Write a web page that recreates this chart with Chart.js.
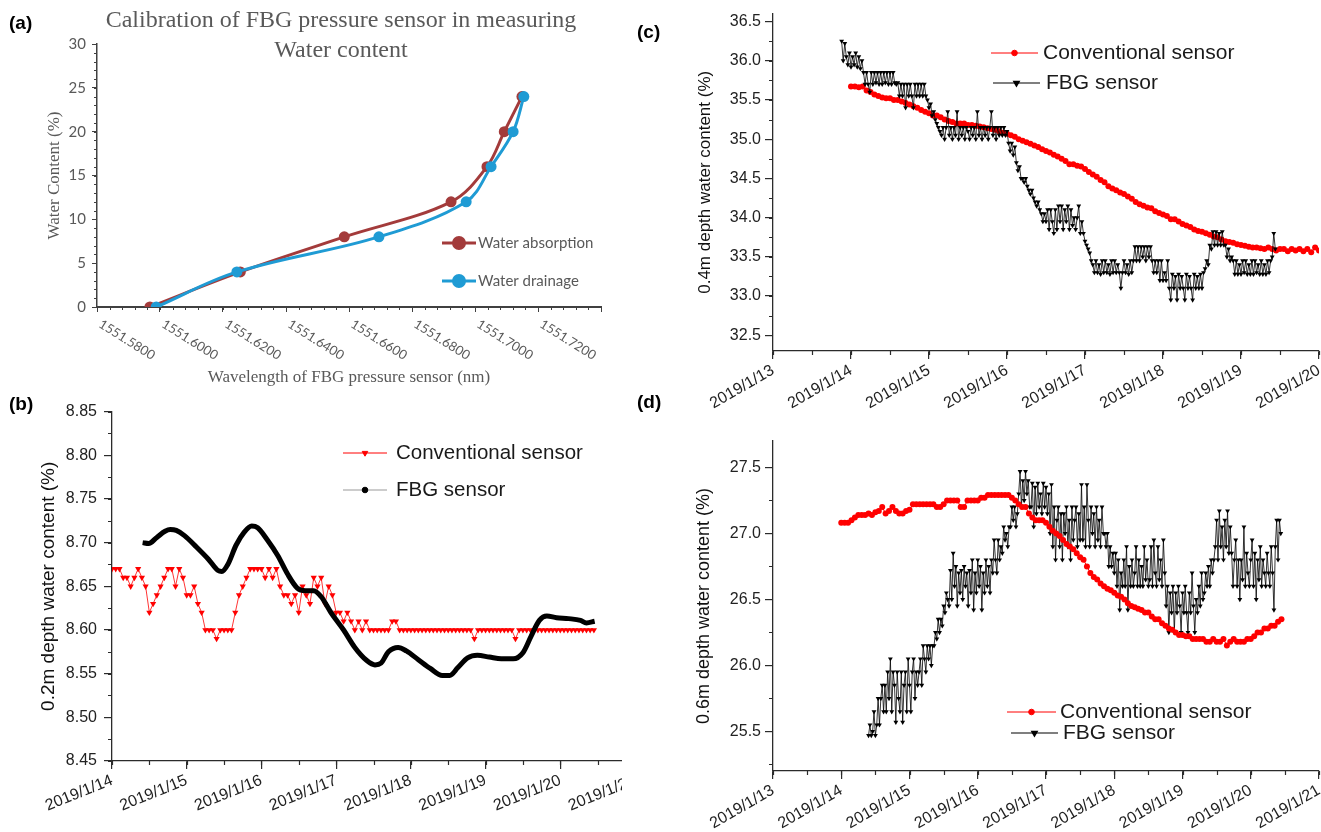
<!DOCTYPE html>
<html>
<head>
<meta charset="utf-8">
<script src="https://cdn.jsdelivr.net/npm/chart.js@4.4.0/dist/chart.umd.min.js"></script>
<style>
  body { margin: 0; background: #fff; width: 1321px; height: 832px; position: relative; overflow: hidden; font-family: "Liberation Sans", Arial, sans-serif; }
  .panel { position: absolute; overflow: hidden; }
  .tag { position: absolute; font-weight: bold; font-size: 19px; line-height: 1; color: #000; }
  #titleA { position: absolute; left: 41px; top: 4px; width: 600px; text-align: center; font-family: "Liberation Serif", serif; font-size: 24px; line-height: 30px; color: #595959; }
</style>
</head>
<body>
<div class="panel" style="left:0;top:0;width:625px;height:395px"><canvas id="chartA" width="625" height="395"></canvas></div>
<div class="panel" style="left:0;top:395px;width:622px;height:437px"><canvas id="chartB" width="660" height="437"></canvas></div>
<div class="panel" style="left:625px;top:0;width:696px;height:420px"><canvas id="chartC" width="706" height="420"></canvas></div>
<div class="panel" style="left:625px;top:420px;width:696px;height:412px"><canvas id="chartD" width="706" height="412"></canvas></div>
<div id="titleA">Calibration of FBG pressure sensor in measuring<br>Water content</div>
<div class="tag" style="left:9px;top:13px">(a)</div>
<div class="tag" style="left:9px;top:394px">(b)</div>
<div class="tag" style="left:637px;top:22px">(c)</div>
<div class="tag" style="left:637px;top:392px">(d)</div>
<script>
// ---- (a) calibration: water content vs. FBG wavelength ----
const calibContent = [0, 4, 8, 12, 16, 20, 24];
const absorptionWl = [1551.5968, 1551.6255, 1551.6585, 1551.6924, 1551.7038, 1551.7093, 1551.7149];
const drainageWl = [1551.5988, 1551.6244, 1551.6695, 1551.6972, 1551.7051, 1551.7121, 1551.7155];
const wlTicks = [1551.58, 1551.60, 1551.62, 1551.64, 1551.66, 1551.68, 1551.70, 1551.72, 1551.74];
const contentTicks = [0, 5, 10, 15, 20, 25, 30];

// ---- (b) 0.2m depth, x in day of January 2019 ----
const dayTicksB = [14, 15, 16, 17, 18, 19, 20, 21];
const level02Ticks = [8.45, 8.50, 8.55, 8.60, 8.65, 8.70, 8.75, 8.80, 8.85];
const conv02Start = 14.0;
const conv02 = [
  8.67, 8.67, 8.67, 8.66,
  8.66, 8.65, 8.66, 8.67, 8.66, 8.65,
  8.62, 8.63, 8.64, 8.65, 8.66,
  8.67, 8.67, 8.65, 8.67, 8.66,
  8.64, 8.64, 8.65, 8.63, 8.62,
  8.60, 8.60, 8.60, 8.59, 8.60,
  8.60, 8.60, 8.60, 8.62, 8.64,
  8.65, 8.66, 8.67, 8.67, 8.67,
  8.67, 8.66, 8.67, 8.66, 8.67,
  8.65, 8.64, 8.64, 8.63, 8.64,
  8.62, 8.65, 8.64, 8.63, 8.66,
  8.65, 8.66, 8.63, 8.65, 8.64,
  8.62, 8.62, 8.61, 8.62, 8.61,
  8.60, 8.61, 8.60, 8.61, 8.60,
  8.60, 8.60, 8.60, 8.60, 8.60,
  8.61, 8.61, 8.60, 8.60, 8.60,
  8.60, 8.60, 8.60, 8.60, 8.60,
  8.60, 8.60, 8.60, 8.60, 8.60,
  8.60, 8.60, 8.60, 8.60, 8.60,
  8.60, 8.60, 8.59, 8.60, 8.60,
  8.60, 8.60, 8.60, 8.60, 8.60,
  8.60, 8.60, 8.60, 8.59, 8.60,
  8.60, 8.60, 8.60, 8.60, 8.60,
  8.60, 8.60, 8.60, 8.60, 8.60,
  8.60, 8.60, 8.60, 8.60, 8.60,
  8.60, 8.60, 8.60, 8.60, 8.60
];
const fbg02Days = [
  14.41, 14.49, 14.60, 14.71, 14.78, 14.86, 14.97, 15.13, 15.29, 15.42,
  15.47, 15.55, 15.66, 15.77, 15.87, 15.95, 16.08, 16.22, 16.35, 16.48,
  16.59, 16.70, 16.80, 16.93, 17.10, 17.25, 17.41, 17.52, 17.60, 17.70,
  17.83, 17.94, 18.10, 18.26, 18.42, 18.52, 18.63, 18.76, 18.89, 19.05,
  19.21, 19.37, 19.50, 19.61, 19.72, 19.82, 19.95, 20.11, 20.27, 20.35, 20.46
];
const fbg02 = [
  8.700, 8.699, 8.706, 8.713, 8.715, 8.714, 8.708, 8.695, 8.681, 8.668,
  8.667, 8.675, 8.697, 8.712, 8.719, 8.717, 8.703, 8.685, 8.664, 8.648,
  8.645, 8.645, 8.638, 8.620, 8.600, 8.580, 8.565, 8.560, 8.562, 8.575,
  8.580, 8.576, 8.566, 8.556, 8.548, 8.548, 8.557, 8.568, 8.571, 8.569,
  8.567, 8.567, 8.574, 8.593, 8.611, 8.616, 8.614, 8.613, 8.611, 8.608, 8.610
];

// ---- (c) 0.4m depth ----
const dayTicksC = [13, 14, 15, 16, 17, 18, 19, 20];
const level04Ticks = [32.5, 33.0, 33.5, 34.0, 34.5, 35.0, 35.5, 36.0, 36.5];
const conv04Start = 14.0;
const conv04 = [
  35.67, 35.67, 35.66, 35.67,
  35.62, 35.60, 35.57, 35.55,
  35.53, 35.52, 35.52, 35.50, 35.50,
  35.48, 35.46, 35.44, 35.42, 35.40, 35.37, 35.35,
  35.33, 35.30, 35.30, 35.28, 35.25,
  35.23, 35.22, 35.20, 35.20, 35.20, 35.18,
  35.18, 35.17, 35.16, 35.15, 35.14,
  35.13, 35.12, 35.10, 35.08, 35.07,
  35.05, 35.03, 35.00, 34.98, 34.96,
  34.94, 34.92, 34.90, 34.87, 34.85,
  34.83, 34.80, 34.78, 34.75, 34.72,
  34.68, 34.68, 34.66, 34.65, 34.62,
  34.58, 34.55, 34.52, 34.48, 34.45,
  34.40, 34.37, 34.35, 34.32, 34.30,
  34.27, 34.24, 34.20, 34.17, 34.15,
  34.13, 34.12, 34.08, 34.06, 34.04,
  34.02, 33.98, 33.98, 33.95, 33.92,
  33.90, 33.88, 33.85, 33.83, 33.82,
  33.80, 33.78, 33.76, 33.75, 33.72,
  33.70, 33.69, 33.68, 33.66, 33.65,
  33.64, 33.63, 33.62, 33.62, 33.61,
  33.60, 33.62, 33.60, 33.58, 33.60,
  33.60, 33.57, 33.60, 33.58, 33.60,
  33.57, 33.60, 33.56, 33.62, 33.58
];
const fbg04Start = 13.88;
const fbg04 = [
  36.25, 36.00, 36.22, 36.05,
  35.95, 36.10, 35.92, 36.05, 35.95, 36.10, 35.92, 36.05, 35.90, 36.00,
  35.85, 35.70, 35.85, 35.70, 35.60, 35.85, 35.70, 35.85, 35.72, 35.85,
  35.70, 35.85, 35.70, 35.85, 35.72, 35.85, 35.70, 35.85, 35.70, 35.85,
  35.72, 35.70, 35.72, 35.55,
  35.70, 35.55, 35.70, 35.40, 35.70, 35.55, 35.70, 35.55, 35.40, 35.70,
  35.55, 35.70, 35.55, 35.70, 35.55, 35.70,
  35.55, 35.50, 35.40, 35.45, 35.30, 35.35,
  35.25, 35.20, 35.15, 35.10, 35.05, 35.15,
  35.00, 35.15, 35.35, 35.05, 35.15, 35.00, 35.15, 35.05, 35.35, 35.00,
  35.15, 35.05, 35.15, 35.00, 35.15, 35.10, 35.00, 35.15, 35.05, 35.15,
  35.00, 35.35, 35.05, 35.15, 35.00, 35.15, 35.05, 35.15, 35.00, 35.15,
  35.35, 35.05, 35.15, 35.00, 35.15, 35.05, 35.15, 35.05,
  35.15, 35.05, 35.10, 34.95,
  34.85, 34.95, 34.80, 34.90,
  34.70, 34.60, 34.65, 34.50,
  34.50, 34.45, 34.50, 34.40,
  34.35, 34.30, 34.35, 34.25,
  34.20, 34.15, 34.20, 34.10,
  34.05, 33.95, 34.05, 33.95,
  34.10, 33.85, 34.10, 33.95, 33.80, 34.10, 33.85, 34.15, 33.95, 34.15,
  33.85, 34.10, 33.95, 34.15, 33.85, 34.10, 33.90, 34.00, 33.85, 34.00,
  34.15, 33.80, 33.95, 33.80,
  33.70, 33.65, 33.60, 33.55,
  33.45, 33.40,
  33.30, 33.45, 33.30, 33.40, 33.28, 33.45, 33.30, 33.45, 33.30, 33.40,
  33.28, 33.45, 33.30, 33.45, 33.30, 33.40, 33.30, 33.10, 33.30, 33.45,
  33.30, 33.40, 33.28, 33.45, 33.30, 33.45,
  33.63, 33.45, 33.63, 33.45, 33.63, 33.50, 33.63, 33.45, 33.63, 33.50, 33.63, 33.45,
  33.30, 33.45, 33.30, 33.45,
  33.20, 33.45, 33.20, 33.30, 33.20, 33.45,
  33.10, 32.95, 33.28, 33.10, 33.25, 32.95, 33.28, 33.10, 33.25, 33.10,
  32.95, 33.28, 33.10, 33.25, 33.10, 32.95, 33.28, 33.10, 33.25, 33.10, 33.28, 33.10,
  33.30, 33.35, 33.45, 33.40,
  33.65, 33.60,
  33.82, 33.65, 33.82, 33.65, 33.80, 33.65, 33.82, 33.65,
  33.65, 33.50, 33.60, 33.45, 33.50, 33.45,
  33.28, 33.45, 33.28, 33.40, 33.28, 33.45, 33.30, 33.45, 33.28, 33.40,
  33.28, 33.45, 33.28, 33.45, 33.30, 33.40, 33.28, 33.45, 33.28, 33.40,
  33.28, 33.45, 33.30, 33.45,
  33.50, 33.80, 33.60
];

// ---- (d) 0.6m depth ----
const dayTicksD = [13, 14, 15, 16, 17, 18, 19, 20, 21];
const level06Ticks = [25.5, 26.0, 26.5, 27.0, 27.5];
const conv06Start = 14.0;
const conv06 = [
  27.08, 27.08, 27.08, 27.10,
  27.12, 27.14, 27.14, 27.14, 27.15, 27.14,
  27.16, 27.17, 27.20, 27.15, 27.17,
  27.20, 27.17, 27.15, 27.15, 27.17,
  27.18, 27.22, 27.22, 27.22, 27.22,
  27.22, 27.22, 27.22, 27.20, 27.20,
  27.22, 27.25, 27.25, 27.25, 27.25,
  27.20, 27.20, 27.25, 27.25, 27.25,
  27.25, 27.27, 27.27, 27.29, 27.29,
  27.29, 27.29, 27.29, 27.29, 27.29,
  27.27, 27.25, 27.22, 27.20, 27.20,
  27.15, 27.12, 27.10, 27.10, 27.10,
  27.08, 27.05, 27.02, 27.00, 26.98,
  26.95, 26.92, 26.90, 26.88, 26.85,
  26.82, 26.80, 26.75, 26.70, 26.67,
  26.65, 26.62, 26.60, 26.58, 26.57,
  26.55, 26.53, 26.52, 26.50, 26.47,
  26.45, 26.44, 26.43, 26.42, 26.40,
  26.40, 26.37, 26.35, 26.35, 26.32,
  26.30, 26.28, 26.27, 26.25, 26.23,
  26.23, 26.22, 26.22, 26.20, 26.20,
  26.20, 26.20, 26.18, 26.18, 26.20,
  26.18, 26.18, 26.20, 26.15, 26.18,
  26.20, 26.18, 26.18, 26.18, 26.20,
  26.20, 26.22, 26.25, 26.25, 26.28,
  26.28, 26.30, 26.30, 26.33, 26.35
];
const fbg06Start = 14.40;
const fbg06 = [
  25.47, 25.55, 25.47, 25.50,
  25.65, 25.47, 25.55, 25.75,
  25.55, 25.75, 25.85, 25.65, 25.85,
  25.65, 25.95, 25.75, 26.05, 25.65, 25.95, 25.85, 25.57, 25.95, 25.75,
  25.65, 25.95, 25.57, 25.85, 25.95, 25.65, 26.05, 25.85, 25.65, 25.95,
  26.05, 25.75, 25.95, 25.85,
  25.95, 26.05, 25.85, 26.15, 26.05, 25.95, 26.15, 26.05, 26.15, 26.00, 26.15,
  26.15, 26.25, 26.20, 26.35, 26.25, 26.35, 26.30,
  26.45, 26.40, 26.55, 26.50,
  26.45, 26.72, 26.50, 26.85, 26.60, 26.75, 26.45, 26.70, 26.55, 26.72,
  26.50, 26.75, 26.60, 26.70, 26.45, 26.72,
  26.55, 26.80, 26.42, 26.70, 26.55, 26.80, 26.60, 26.75, 26.42, 26.70,
  26.55, 26.80, 26.60, 26.75, 26.55, 26.80,
  26.70, 26.95, 26.80, 26.70, 26.95, 26.80, 26.90,
  26.85, 27.05, 26.95, 27.00, 26.90, 27.05,
  27.05, 27.20, 27.10, 27.20, 27.05, 27.15,
  27.30, 27.47, 27.20, 27.40, 27.25, 27.47, 27.30, 27.40, 27.20,
  27.20, 27.38, 27.05, 27.35, 27.15, 27.38, 27.20, 27.30, 27.15, 27.38,
  27.20, 27.35, 27.15, 27.30,
  27.00, 27.37, 26.90, 27.20, 26.80, 27.10, 27.20, 26.90, 27.15, 26.80,
  27.15, 27.00, 27.20, 26.90, 27.10, 26.80, 27.20, 26.95, 27.10, 27.20,
  26.90, 27.15, 26.95, 27.37, 26.95, 27.20, 26.90, 27.37, 27.10, 26.90,
  27.20, 27.00, 27.15, 26.90, 27.20, 26.95, 27.10, 26.90, 27.20, 27.00,
  27.00, 26.90, 27.00, 26.75, 26.90, 26.75, 26.85, 26.70, 26.85,
  26.60, 26.80, 26.42, 26.70, 26.60, 26.80, 26.60, 26.90, 26.42, 26.75,
  26.60, 26.80, 26.60, 26.70, 26.90, 26.60, 26.80, 26.60, 26.75, 26.60,
  26.90, 26.65, 26.80, 26.60,
  26.65, 26.90, 26.60, 26.95, 26.70, 26.60, 26.90, 26.65, 26.80, 26.60,
  26.95, 26.70,
  26.45, 26.60, 26.25, 26.55, 26.40, 26.60, 26.25, 26.55, 26.40, 26.60,
  26.45, 26.25, 26.55, 26.40, 26.60, 26.40, 26.25, 26.55, 26.40, 26.70,
  26.45, 26.25, 26.50, 26.40, 26.60, 26.45, 26.70, 26.50,
  26.55, 26.70, 26.60, 26.75, 26.60, 26.80, 26.70, 26.80,
  26.90, 27.10, 26.80, 27.17, 26.90, 27.05, 26.80, 27.10, 26.90, 27.17,
  26.85, 27.05,
  26.85, 26.60, 26.80, 26.95, 26.60, 26.80, 26.50, 26.80, 26.65, 27.05,
  26.60, 26.85, 26.70, 26.60, 26.80, 26.95, 26.60, 26.85, 26.50, 26.80,
  26.65, 26.90, 26.60, 26.80, 26.70, 26.60, 26.85, 26.70,
  26.60, 26.90, 26.70, 26.42, 26.90, 27.10, 26.80, 27.10, 27.00
];

// sampling intervals of the logged series, in days
const convStep = 0.05;
const fbgStep = 0.02;

const RED = '#ff0000';
const INK = '#2b2b2b';

function series(start, step, values) {
  return values.map((v, i) => ({ x: +(start + i * step).toFixed(3), y: v }));
}
function pairs(xs, ys) {
  return ys.map((y, i) => ({ x: xs[i], y: y }));
}
function fixedTicks(list) {
  return s => { s.ticks = list.map(v => ({ value: v })); };
}

// short unlabelled ticks between the labelled ones
const minorTicks = {
  id: 'minorTicks',
  afterDraw(chart, args, opts) {
    const ctx = chart.ctx, area = chart.chartArea;
    const sx = chart.scales.x, sy = chart.scales.y;
    ctx.save();
    ctx.strokeStyle = opts.color;
    ctx.lineWidth = opts.width;
    ctx.beginPath();
    for (let k = Math.ceil(sx.min / opts.xStep - 1e-6); k * opts.xStep <= sx.max + 1e-9; k++) {
      const p = Math.round(sx.getPixelForValue(k * opts.xStep)) + 0.5;
      ctx.moveTo(p, area.bottom);
      ctx.lineTo(p, area.bottom + opts.len);
    }
    for (let k = Math.ceil(sy.min / opts.yStep - 1e-6); k * opts.yStep <= sy.max + 1e-9; k++) {
      const p = Math.round(sy.getPixelForValue(k * opts.yStep)) + 0.5;
      ctx.moveTo(area.left, p);
      ctx.lineTo(area.left - opts.len, p);
    }
    ctx.stroke();
    ctx.restore();
  }
};

// legend entries drawn at fixed spots inside the plot
const keyBox = {
  id: 'keyBox',
  afterDraw(chart, args, opts) {
    const ctx = chart.ctx;
    ctx.save();
    ctx.font = opts.font;
    ctx.textBaseline = 'middle';
    opts.items.forEach(it => {
      const ds = chart.data.datasets[it.index];
      ctx.strokeStyle = it.line;
      ctx.lineWidth = it.lineWidth;
      ctx.beginPath();
      ctx.moveTo(it.x1, it.y);
      ctx.lineTo(it.x2, it.y);
      ctx.stroke();
      ctx.fillStyle = it.marker;
      ctx.strokeStyle = it.marker;
      Chart.helpers.drawPoint(ctx, { pointStyle: it.style, rotation: it.rotation || 0, radius: it.radius, borderWidth: 0.5 }, (it.x1 + it.x2) / 2, it.y);
      ctx.fillStyle = opts.color;
      ctx.fillText(ds.label, it.textX, it.y);
    });
    ctx.restore();
  }
};

// wavelength labels slanting down to the right from their ticks
const slantLabels = {
  id: 'slantLabels',
  afterDraw(chart, args, opts) {
    const sx = chart.scales.x, ctx = chart.ctx, bottom = chart.chartArea.bottom;
    ctx.save();
    ctx.font = opts.font;
    ctx.fillStyle = opts.color;
    ctx.textAlign = 'left';
    ctx.textBaseline = 'middle';
    sx.ticks.forEach((t, i) => {
      if (i === sx.ticks.length - 1) return;
      ctx.save();
      ctx.translate(sx.getPixelForValue(t.value) + opts.dx, bottom + opts.dy);
      ctx.rotate(opts.angle * Math.PI / 180);
      ctx.fillText(t.value.toFixed(4), 0, 0);
      ctx.restore();
    });
    ctx.restore();
  }
};

Chart.defaults.font.family = '"Liberation Sans", Arial, sans-serif';
Chart.defaults.animation = false;

// ---------- (a) ----------
const GRAYTXT = '#595959';
new Chart(document.getElementById('chartA'), {
  type: 'line',
  data: {
    datasets: [
      { label: 'Water absorption', data: pairs(absorptionWl, calibContent), borderColor: '#a33b3b', borderWidth: 3,
        pointRadius: 5.5, pointBackgroundColor: '#a33b3b', pointBorderWidth: 0, tension: 0.35, order: 1 },
      { label: 'Water drainage', data: pairs(drainageWl, calibContent), borderColor: '#1f9bd4', borderWidth: 3,
        pointRadius: 5.5, pointBackgroundColor: '#1f9bd4', pointBorderWidth: 0, tension: 0.35, order: 0 }
    ]
  },
  plugins: [minorTicks, keyBox, slantLabels],
  options: {
    responsive: false,
    layout: { padding: { left: 44, top: 44, right: 24, bottom: 7 } },
    plugins: {
      legend: { display: false }, tooltip: { enabled: false },
      minorTicks: { xStep: 0.004, yStep: 1, len: 3, color: '#404040', width: 1 },
      slantLabels: { font: '13px Lato', color: GRAYTXT, dx: 3, dy: 16, angle: 32 },
      keyBox: {
        font: '15px Lato', color: GRAYTXT,
        items: [
          { index: 0, x1: 442, x2: 476, y: 243, line: '#a33b3b', lineWidth: 3, marker: '#a33b3b', style: 'circle', radius: 5.5, textX: 478 },
          { index: 1, x1: 442, x2: 476, y: 281, line: '#1f9bd4', lineWidth: 3, marker: '#1f9bd4', style: 'circle', radius: 5.5, textX: 478 }
        ]
      }
    },
    scales: {
      x: {
        type: 'linear', min: 1551.58, max: 1551.74,
        afterBuildTicks: fixedTicks(wlTicks),
        afterFit: s => { s.height = 81; },
        ticks: { display: false },
        grid: { drawOnChartArea: false, tickLength: 5, color: '#404040' },
        border: { color: '#404040', width: 2 },
        title: { display: true, text: 'Wavelength of FBG pressure sensor (nm)', color: GRAYTXT,
          font: { family: '"Liberation Serif", serif', size: 17 }, padding: { top: 0, bottom: 0 } }
      },
      y: {
        min: 0, max: 30,
        afterBuildTicks: fixedTicks(contentTicks),
        afterFit: s => { s.width = 53; },
        ticks: { color: GRAYTXT, font: { family: 'Lato', size: 15 }, padding: 6 },
        grid: { drawOnChartArea: false, tickLength: 5, color: '#404040' },
        border: { color: '#404040', width: 1.5 },
        title: { display: true, text: 'Water Content (%)', color: GRAYTXT,
          font: { family: '"Liberation Serif", serif', size: 17 }, padding: { top: 0, bottom: 0 } }
      }
    }
  }
});

// ---------- shared setup for the time series panels ----------
function timeChart(id, cfg) {
  return new Chart(document.getElementById(id), {
    type: 'line',
    data: { datasets: cfg.datasets },
    plugins: [minorTicks, keyBox],
    options: {
      responsive: false,
      layout: { padding: cfg.padding },
      plugins: {
        legend: { display: false }, tooltip: { enabled: false },
        minorTicks: { xStep: 0.5, yStep: cfg.yMinor, len: 4, color: INK, width: 1.2 },
        keyBox: { font: cfg.keyFont, color: '#1a1a1a', items: cfg.keys }
      },
      scales: {
        x: {
          type: 'linear', min: cfg.xTicks[0], max: cfg.xTicks[cfg.xTicks.length - 1],
          afterBuildTicks: fixedTicks(cfg.xTicks),
          afterFit: s => { s.height = cfg.xHeight; },
          ticks: { callback: v => '2019/1/' + v, minRotation: cfg.rot, maxRotation: cfg.rot, autoSkip: false,
            color: '#222', font: { size: cfg.tickSize }, padding: 2 },
          grid: { drawOnChartArea: false, tickLength: 8, color: INK, lineWidth: 1.2 },
          border: { color: INK, width: 1.3 }
        },
        y: {
          min: cfg.yMin, max: cfg.yMax,
          afterBuildTicks: fixedTicks(cfg.yTicks),
          afterFit: s => { s.width = cfg.yWidth; },
          ticks: { callback: v => v.toFixed(cfg.digits), color: '#222', font: { size: cfg.tickSize }, padding: cfg.yPad },
          grid: { drawOnChartArea: false, tickLength: 8, color: INK, lineWidth: 1.2 },
          border: { color: INK, width: 1.3 },
          title: { display: true, text: cfg.yTitle, color: '#111', font: { size: cfg.titleSize }, padding: { top: 0, bottom: 0 } }
        }
      }
    }
  });
}

// ---------- (b) ----------
timeChart('chartB', {
  padding: { left: 37, top: 12, right: 25, bottom: 0 },
  xTicks: dayTicksB, yTicks: level02Ticks, yMin: 8.45, yMax: 8.85, yMinor: 0.025, digits: 2, yPad: 7,
  yWidth: 75, xHeight: 71, rot: 22, tickSize: 16, titleSize: 19, keyFont: '20.5px "Liberation Sans"',
  yTitle: '0.2m depth water content (%)',
  datasets: [
    { label: 'Conventional sensor', data: series(conv02Start, convStep, conv02), borderColor: RED, borderWidth: 0.8,
      pointStyle: 'triangle', pointRotation: 180, pointRadius: 3.6, pointBackgroundColor: RED, pointBorderWidth: 0, order: 1 },
    { label: 'FBG sensor', data: pairs(fbg02Days, fbg02), borderColor: '#000', borderWidth: 5,
      pointRadius: 0, cubicInterpolationMode: 'monotone', order: 0 }
  ],
  keys: [
    { index: 0, x1: 343, x2: 387, y: 58, line: RED, lineWidth: 1, marker: RED, style: 'triangle', rotation: 180, radius: 3.2, textX: 396 },
    { index: 1, x1: 343, x2: 387, y: 95, line: '#999', lineWidth: 1, marker: '#000', style: 'circle', radius: 2.8, textX: 396 }
  ]
});

// ---------- (c) ----------
timeChart('chartC', {
  padding: { left: 70, top: 10, right: 12, bottom: 0 },
  xTicks: dayTicksC, yTicks: level04Ticks, yMin: 32.3, yMax: 36.6, yMinor: 0.25, digits: 1, yPad: 4,
  yWidth: 78, xHeight: 69, rot: 30, tickSize: 16, titleSize: 17, keyFont: '21px "Liberation Sans"',
  yTitle: '0.4m depth water content (%)',
  datasets: [
    { label: 'Conventional sensor', data: series(conv04Start, convStep, conv04), borderColor: RED, borderWidth: 1,
      pointStyle: 'circle', pointRadius: 3, pointBackgroundColor: RED, pointBorderWidth: 0, order: 1 },
    { label: 'FBG sensor', data: series(fbg04Start, fbgStep, fbg04), borderColor: '#000', borderWidth: 0.8,
      pointStyle: 'triangle', pointRotation: 180, pointRadius: 2.8, pointBackgroundColor: '#000', pointBorderWidth: 0, order: 0 }
  ],
  keys: [
    { index: 0, x1: 366, x2: 413, y: 53, line: RED, lineWidth: 1, marker: RED, style: 'circle', radius: 2.8, textX: 418 },
    { index: 1, x1: 368, x2: 415, y: 83, line: '#555', lineWidth: 1.5, marker: '#000', style: 'triangle', rotation: 180, radius: 3, textX: 421 }
  ]
});

// ---------- (d) ----------
timeChart('chartD', {
  padding: { left: 68, top: 21, right: 12, bottom: 0 },
  xTicks: dayTicksD, yTicks: level06Ticks, yMin: 25.2, yMax: 27.7, yMinor: 0.25, digits: 1, yPad: 4,
  yWidth: 80, xHeight: 61, rot: 30, tickSize: 16, titleSize: 18, keyFont: '21px "Liberation Sans"',
  yTitle: '0.6m depth water content (%)',
  datasets: [
    { label: 'Conventional sensor', data: series(conv06Start, convStep, conv06), borderColor: RED, borderWidth: 1,
      pointStyle: 'circle', pointRadius: 3, pointBackgroundColor: RED, pointBorderWidth: 0, order: 0 },
    { label: 'FBG sensor', data: series(fbg06Start, fbgStep, fbg06), borderColor: '#000', borderWidth: 0.8,
      pointStyle: 'triangle', pointRotation: 180, pointRadius: 2.8, pointBackgroundColor: '#000', pointBorderWidth: 0, order: 1 }
  ],
  keys: [
    { index: 0, x1: 382, x2: 431, y: 292, line: RED, lineWidth: 1, marker: RED, style: 'circle', radius: 2.8, textX: 435 },
    { index: 1, x1: 386, x2: 433, y: 313, line: '#555', lineWidth: 1.5, marker: '#000', style: 'triangle', rotation: 180, radius: 3, textX: 438 }
  ]
});
</script>
</body>
</html>
